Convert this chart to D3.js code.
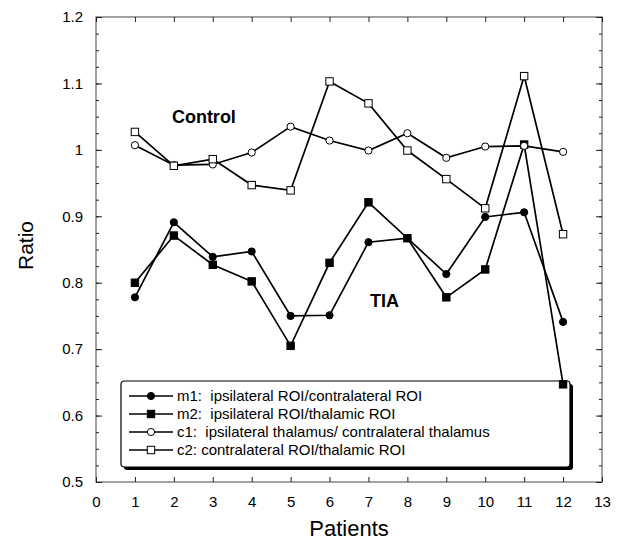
<!DOCTYPE html>
<html>
<head>
<meta charset="utf-8">
<script src="https://cdn.jsdelivr.net/npm/d3@7"></script>
<style>
  body { margin: 0; background: #fff; }
  text { font-family: Arial, "Liberation Sans", Helvetica, sans-serif; }
</style>
</head>
<body>
<div id="chart"></div>
<script>
// data
var patients = [1, 2, 3, 4, 5, 6, 7, 8, 9, 10, 11, 12];
var m1 = [0.778, 0.891, 0.839, 0.847, 0.750, 0.751, 0.861, 0.867, 0.813, 0.899, 0.906, 0.741];
var m2 = [0.800, 0.871, 0.827, 0.802, 0.705, 0.830, 0.921, 0.867, 0.778, 0.820, 1.008, 0.647];
var c1 = [1.007, 0.977, 0.978, 0.996, 1.035, 1.014, 0.999, 1.025, 0.988, 1.005, 1.006, 0.997];
var c2 = [1.027, 0.976, 0.986, 0.947, 0.939, 1.103, 1.070, 0.999, 0.956, 0.912, 1.111, 0.873];
var xTicks = d3.range(0, 14);
var yTicks = [0.5, 0.6, 0.7, 0.8, 0.9, 1, 1.1, 1.2];
var legendLabels = [
  "m1:\u00a0 ipsilateral ROI/contralateral ROI",
  "m2:\u00a0 ipsilateral ROI/thalamic ROI",
  "c1:\u00a0 ipsilateral thalamus/ contralateral thalamus",
  "c2: contralateral ROI/thalamic ROI"
];

var width = 620, height = 543;
var marge = {top: 17, bottom: 61, left: 96, right: 18};

var svg = d3.select("#chart").append("svg")
    .attr("width", width)
    .attr("height", height);

var x = d3.scaleLinear().domain([0, 13]).range([marge.left, width - marge.right]);
var y = d3.scaleLinear().domain([0.5, 1.2]).range([height - marge.bottom, marge.top]);

// frame
svg.append("rect")
    .attr("x", x(0)).attr("y", y(1.2))
    .attr("width", x(13) - x(0)).attr("height", y(0.5) - y(1.2))
    .attr("fill", "none").attr("stroke", "#444").attr("stroke-width", 1);

function styleAxis(g) {
  g.select(".domain").remove();
  g.selectAll(".tick line").attr("stroke", "#222");
  g.selectAll("text").attr("font-size", 15).attr("fill", "#000");
}

var minor = d3.range(0.5, 1.2001, 0.025);

// bottom / top
svg.append("g").attr("transform", "translate(0," + y(0.5) + ")")
    .call(d3.axisBottom(x).tickValues(xTicks).tickSize(-5).tickPadding(14).tickFormat(d3.format("d")))
    .call(styleAxis);
svg.append("g").attr("transform", "translate(0," + y(1.2) + ")")
    .call(d3.axisTop(x).tickValues(xTicks).tickSize(-5).tickFormat(""))
    .call(styleAxis);

// left / right
svg.append("g").attr("transform", "translate(" + x(0) + ",0)")
    .call(d3.axisLeft(y).tickValues(minor).tickSize(-3).tickFormat(""))
    .call(styleAxis);
svg.append("g").attr("transform", "translate(" + x(0) + ",0)")
    .call(d3.axisLeft(y).tickValues(yTicks).tickSize(-6).tickPadding(13).tickFormat(d3.format("")))
    .call(styleAxis);
svg.append("g").attr("transform", "translate(" + x(13) + ",0)")
    .call(d3.axisRight(y).tickValues(minor).tickSize(-3).tickFormat(""))
    .call(styleAxis);
svg.append("g").attr("transform", "translate(" + x(13) + ",0)")
    .call(d3.axisRight(y).tickValues(yTicks).tickSize(-6).tickFormat(""))
    .call(styleAxis);

// axis titles
svg.append("text")
    .attr("transform", "translate(33," + (y(0.85) - 4) + ") rotate(-90)")
    .attr("text-anchor", "middle")
    .attr("font-size", 21)
    .text("Ratio");
svg.append("text")
    .attr("x", x(6.5)).attr("y", 536)
    .attr("text-anchor", "middle")
    .attr("font-size", 22)
    .text("Patients");

// series
var series = [
  {name: "m1", values: m1, shape: "circle", fill: "#000"},
  {name: "m2", values: m2, shape: "square", fill: "#000"},
  {name: "c1", values: c1, shape: "circle", fill: "#fff"},
  {name: "c2", values: c2, shape: "square", fill: "#fff"}
];

function drawMarker(g, s, cx, cy) {
  if (s.shape == "circle") {
    g.append("circle")
        .attr("cx", cx).attr("cy", cy).attr("r", 3.6)
        .attr("fill", s.fill).attr("stroke", "#000").attr("stroke-width", 1);
  } else {
    g.append("rect")
        .attr("x", cx - 3.7).attr("y", cy - 3.7)
        .attr("width", 7.4).attr("height", 7.4)
        .attr("fill", s.fill).attr("stroke", "#000").attr("stroke-width", 1);
  }
}

// legend (drawn first so the data sits on top of it)
var lg = svg.append("g").attr("transform", "translate(121,381)");
lg.append("rect")
    .attr("x", 3).attr("y", 3).attr("width", 449).attr("height", 86)
    .attr("rx", 3).attr("fill", "#000");
lg.append("rect")
    .attr("x", 0).attr("y", 0).attr("width", 449).attr("height", 86)
    .attr("rx", 3).attr("fill", "#fff").attr("stroke", "#000").attr("stroke-width", 1.2);

series.forEach(function(s, i) {
  var ly = 15 + i * 18;
  lg.append("line")
      .attr("x1", 8).attr("x2", 52).attr("y1", ly).attr("y2", ly)
      .attr("stroke", "#000").attr("stroke-width", 1.5);
  drawMarker(lg, s, 30, ly);
  lg.append("text")
      .attr("x", 56).attr("y", ly + 5)
      .attr("font-size", 15)
      .text(legendLabels[i]);
});

var line = d3.line()
    .x(function(d) { return x(d[0]); })
    .y(function(d) { return y(d[1]); });

series.forEach(function(s) {
  var pts = patients.map(function(p, i) { return [p, s.values[i]]; });
  svg.append("path")
      .attr("d", line(pts))
      .attr("fill", "none")
      .attr("stroke", "#000")
      .attr("stroke-width", 1.7);
});
series.forEach(function(s) {
  var g = svg.append("g");
  patients.forEach(function(p, i) {
    drawMarker(g, s, x(p), y(s.values[i]));
  });
});

// annotations
svg.append("text")
    .attr("x", x(1.95)).attr("y", y(1.04))
    .attr("font-size", 18).attr("font-weight", "bold")
    .text("Control");
svg.append("text")
    .attr("x", x(7.04)).attr("y", y(0.763))
    .attr("font-size", 18).attr("font-weight", "bold")
    .text("TIA");
</script>
</body>
</html>
